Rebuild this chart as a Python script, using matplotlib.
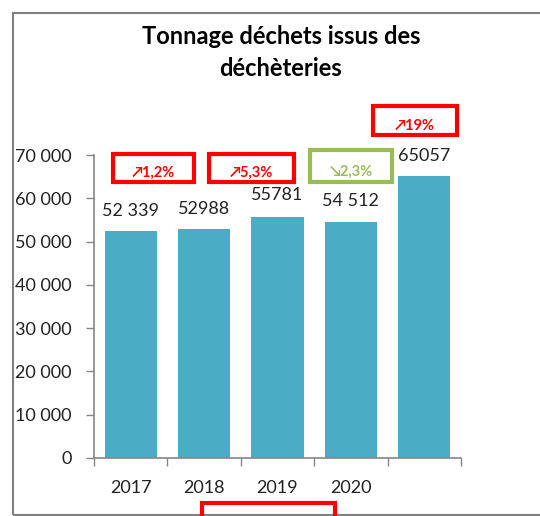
import matplotlib.pyplot as plt
from matplotlib.patches import Rectangle
from matplotlib.ticker import FuncFormatter

# Données
annees = ['2017', '2018', '2019', '2020', '']
tonnages = [52339, 52988, 55781, 54512, 65057]
etiquettes = ['52 339', '52988', '55781', '54 512', '65057']
variations = ['\u21971,2%', '\u21975,3%', '\u21982,3%', '\u219719%']
couleurs_var = ['#FF0000', '#FF0000', '#9BBB59', '#FF0000']

plt.rcParams['font.family'] = ['Lato', 'DejaVu Sans']

W, H = 540, 516
fig = plt.figure(figsize=(W / 100, H / 100), dpi=100)


def px(x0, y0, x1, y1):
    # pixels (origine en haut à gauche) -> coordonnées figure
    return x0 / W, 1 - y1 / H, (x1 - x0) / W, (y1 - y0) / H


# cadre du graphique
l, b, w, h = px(13, 13, 560, 515)
fig.patches.append(Rectangle((l, b), w, h, transform=fig.transFigure,
                             fill=False, edgecolor='#808080', linewidth=1.5))

ax = fig.add_axes([94 / W, 1 - 458 / H, (461 - 94) / W, (458 - 155) / H])
x = range(len(tonnages))
ax.bar(x, tonnages, width=0.71, color='#4BACC6')
ax.set_xlim(-0.5, len(tonnages) - 0.5)
ax.set_ylim(0, 70000)
ax.set_yticks(range(0, 70001, 10000))
ax.yaxis.set_major_formatter(FuncFormatter(lambda v, p: f'{int(v):,}'.replace(',', ' ')))
ax.set_xticks(list(x))
ax.set_xticklabels(annees)
ax.set_xticks([i - 0.5 for i in range(len(tonnages) + 1)], minor=True)
ax.tick_params(axis='x', which='major', length=0, pad=16, labelsize=13, labelcolor='#222222')
ax.tick_params(axis='x', which='minor', length=6, width=1, color='#868686', direction='out')
ax.tick_params(axis='y', length=6, width=1, color='#868686', pad=10, labelsize=13,
               labelcolor='#222222')
for s in ['top', 'right']:
    ax.spines[s].set_visible(False)
for s in ['left', 'bottom']:
    ax.spines[s].set_color('#868686')
    ax.spines[s].set_linewidth(1.2)

# valeurs au-dessus des barres (ligne de base)
decalages = [3630, 3300, 3760, 3760, 3530]
for i, (v, t) in enumerate(zip(tonnages, etiquettes)):
    ax.text(i, v + decalages[i], t, ha='center', va='baseline', fontsize=13, color='#222222')

fig.text(0.52, 1 - 36 / H, 'Tonnage déchets issus des', ha='center', va='center',
         fontsize=17, fontweight='bold')
fig.text(0.52, 1 - 69 / H, 'déchèteries', ha='center', va='center',
         fontsize=17, fontweight='bold')

# encadrés de variation
boites = [(113, 154, 194, 182), (209, 154, 294, 182), (310, 150, 392, 182), (373, 106, 457, 135)]
for (x0, y0, x1, y1), txt, c in zip(boites, variations, couleurs_var):
    l, b, w, h = px(x0, y0, x1, y1)
    fig.patches.append(Rectangle((l, b), w, h, transform=fig.transFigure,
                                 fill=False, edgecolor=c, linewidth=3))
    fig.text(l + w / 2, b + h * 0.33, txt, ha='center', va='center',
             fontsize=10.5, fontweight='bold', color=c)

# encadré rouge coupé en bas
l, b, w, h = px(202, 503, 335, 540)
fig.patches.append(Rectangle((l, b), w, h, transform=fig.transFigure,
                             fill=False, edgecolor='#FF0000', linewidth=3))

fig.savefig('out.png', dpi=100)
